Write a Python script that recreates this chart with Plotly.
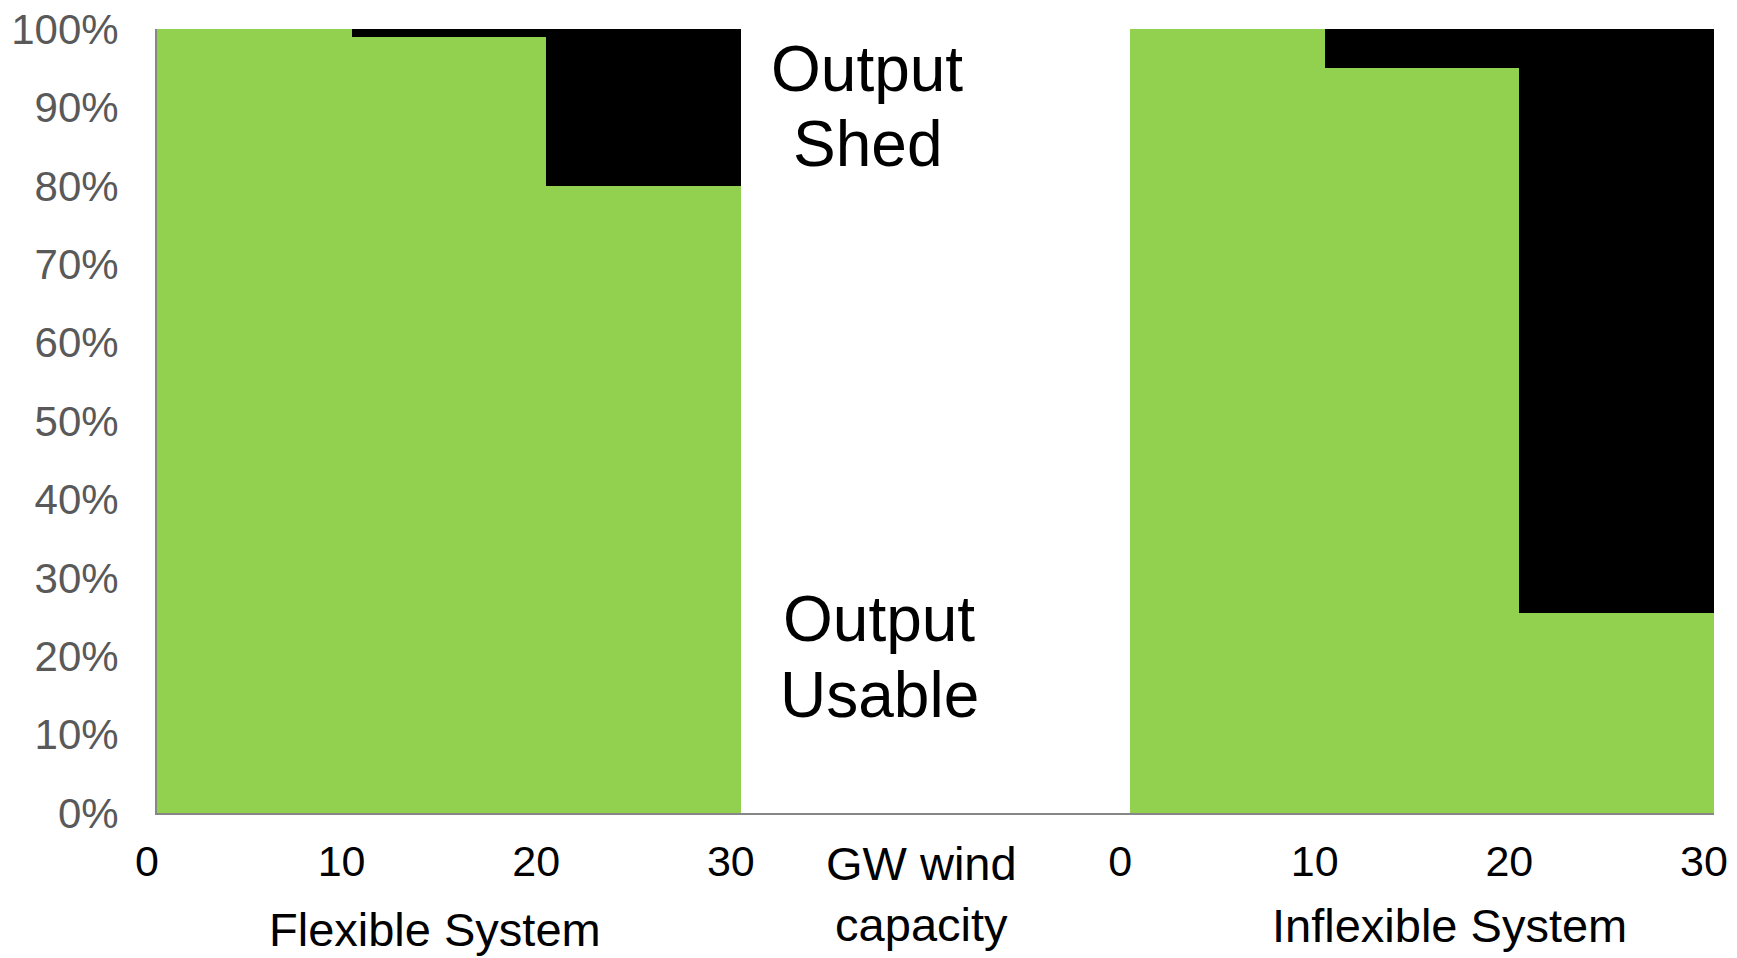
import plotly.graph_objects as go

# Wind capacity bins (GW) for each system
bin_start_gw = [0, 10, 20]
bin_width_gw = 10

# Share of wind output (%) per capacity bin
flexible_usable = [100, 99, 80]
flexible_shed = [0, 1, 20]
inflexible_usable = [100, 95, 25.5]
inflexible_shed = [0, 5, 74.5]

tick_labels = ["0", "10", "20", "30"]
y_ticks = list(range(0, 101, 10))
y_tick_labels = [f"{v}%" for v in y_ticks]

GREEN = "#92D050"
BLACK = "#000000"
FONT = "Arial, Liberation Sans, sans-serif"

# The inflexible panel sits after a 20 GW gap on the shared x axis
inflex_offset = 50

flex_x = [s + bin_width_gw / 2 for s in bin_start_gw]
inflex_x = [s + bin_width_gw / 2 + inflex_offset for s in bin_start_gw]

fig = go.Figure()
fig.add_trace(go.Bar(
    x=flex_x + inflex_x,
    y=flexible_usable + inflexible_usable,
    width=bin_width_gw,
    marker=dict(color=GREEN, line=dict(width=0)),
    name="Output Usable",
))
fig.add_trace(go.Bar(
    x=flex_x + inflex_x,
    y=flexible_shed + inflexible_shed,
    width=bin_width_gw,
    marker=dict(color=BLACK, line=dict(width=0)),
    name="Output Shed",
))

edges = bin_start_gw + [bin_start_gw[-1] + bin_width_gw]
tickvals = edges + [e + inflex_offset for e in edges]

fig.update_layout(
    barmode="stack",
    bargap=0,
    showlegend=False,
    width=1737,
    height=958,
    margin=dict(l=157, r=23, t=29, b=145),
    paper_bgcolor="white",
    plot_bgcolor="white",
    font=dict(family=FONT, color="black"),
    xaxis=dict(
        range=[0, 80],
        tickvals=tickvals,
        ticktext=tick_labels + tick_labels,
        tickfont=dict(size=43, color="black", family=FONT),
        ticks="",
        ticklabelstandoff=9,
        ticklabelshift=-10,
        ticklabeloverflow="allow",
        automargin=False,
        showgrid=False,
        zeroline=False,
        showline=True,
        linecolor="#868686",
        linewidth=2,
    ),
    yaxis=dict(
        range=[0, 100],
        tickvals=y_ticks,
        ticktext=y_tick_labels,
        tickfont=dict(size=42, color="#595959", family=FONT),
        ticks="",
        ticklabelstandoff=28,
        ticklabeloverflow="allow",
        automargin=False,
        showgrid=False,
        zeroline=False,
        showline=True,
        linecolor="#868686",
        linewidth=2,
    ),
)


def label(text, x, y, size, yref="y"):
    fig.add_annotation(x=x, y=y, xref="x", yref=yref, text=text, showarrow=False,
                       xanchor="center", yanchor="middle",
                       font=dict(size=size, color="black", family=FONT))


# Region labels inside the gap between the two systems
label("Output", 36.5, 94.9, 64)
label("Shed", 36.5, 85.3, 64)
label("Output", 37.1, 24.7, 64)
label("Usable", 37.1, 15.0, 64)

# Axis captions below the plot
label("GW wind<br>capacity", 39.3, -0.103, 47, yref="paper")
label("Flexible System", 14.3, -0.149, 47, yref="paper")
label("Inflexible System", 66.4, -0.144, 47, yref="paper")

fig.write_html("out.html")
